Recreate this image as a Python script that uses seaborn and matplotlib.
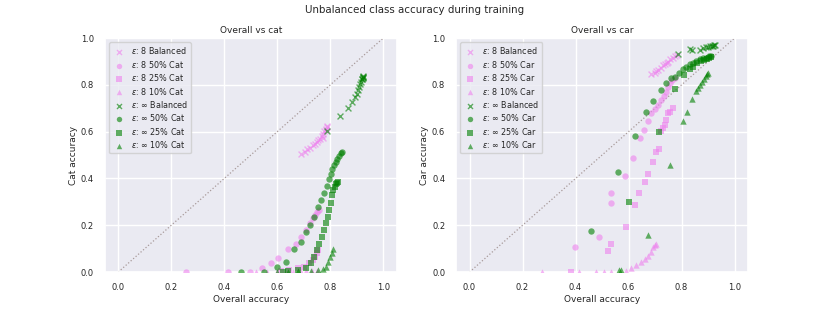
import numpy as np
import pandas as pd
import matplotlib
matplotlib.use("Agg")
import matplotlib.pyplot as plt
import seaborn as sns

# ---- left panel: overall vs cat ----
cat_e8_bal_x = [0.689, 0.704, 0.714, 0.724, 0.733, 0.742, 0.749, 0.755, 0.762, 0.767, 0.773, 0.777, 0.782, 0.786, 0.789, 0.784, 0.771]
cat_e8_bal_y = [0.503, 0.513, 0.526, 0.531, 0.541, 0.548, 0.555, 0.563, 0.570, 0.580, 0.591, 0.602, 0.611, 0.619, 0.626, 0.607, 0.575]
cat_e8_50_x = [0.254, 0.414, 0.497, 0.544, 0.576, 0.601, 0.639, 0.670, 0.689, 0.708, 0.725, 0.733, 0.742, 0.750, 0.759]
cat_e8_50_y = [0.0, 0.0, 0.0, 0.016, 0.037, 0.058, 0.097, 0.122, 0.151, 0.179, 0.208, 0.229, 0.244, 0.258, 0.265]
cat_e8_25_x = [0.614, 0.645, 0.677, 0.702, 0.721, 0.734, 0.742, 0.750, 0.755]
cat_e8_25_y = [0.003, 0.009, 0.016, 0.023, 0.037, 0.051, 0.063, 0.080, 0.094]
cat_e8_10_x = [0.52, 0.56, 0.60, 0.63, 0.66, 0.69, 0.71, 0.73, 0.75]
cat_e8_10_y = [0.0, 0.0, 0.0, 0.0, 0.0, 0.002, 0.003, 0.004, 0.005]
cat_einf_bal_x = [0.787, 0.837, 0.867, 0.881, 0.892, 0.900, 0.905, 0.910, 0.913, 0.917, 0.920, 0.922, 0.924, 0.921, 0.925, 0.922]
cat_einf_bal_y = [0.601, 0.669, 0.700, 0.728, 0.749, 0.763, 0.777, 0.792, 0.803, 0.814, 0.824, 0.831, 0.835, 0.827, 0.834, 0.837]
cat_einf_50_x = [0.462, 0.551, 0.598, 0.633, 0.664, 0.689, 0.708, 0.725, 0.740, 0.753, 0.765, 0.777, 0.786, 0.796, 0.802, 0.808, 0.814, 0.821, 0.827, 0.833, 0.840, 0.843]
cat_einf_50_y = [0.0, 0.0, 0.023, 0.044, 0.097, 0.130, 0.170, 0.200, 0.236, 0.279, 0.308, 0.340, 0.366, 0.397, 0.418, 0.440, 0.456, 0.470, 0.485, 0.496, 0.507, 0.513]
cat_einf_25_x = [0.620, 0.639, 0.677, 0.708, 0.727, 0.740, 0.750, 0.759, 0.768, 0.778, 0.784, 0.790, 0.797, 0.803, 0.806, 0.812, 0.817, 0.822, 0.827, 0.831]
cat_einf_25_y = [0.0, 0.004, 0.009, 0.016, 0.037, 0.063, 0.094, 0.122, 0.151, 0.179, 0.208, 0.236, 0.265, 0.294, 0.329, 0.351, 0.365, 0.376, 0.382, 0.386]
cat_einf_10_x = [0.600, 0.640, 0.677, 0.727, 0.753, 0.771, 0.784, 0.793, 0.800, 0.806, 0.809]
cat_einf_10_y = [0.0, 0.0, 0.004, 0.004, 0.009, 0.013, 0.023, 0.044, 0.066, 0.083, 0.100]

# ---- right panel: overall vs car ----
car_e8_bal_x = [0.686, 0.698, 0.711, 0.721, 0.730, 0.738, 0.748, 0.758, 0.767, 0.776, 0.784, 0.705, 0.745]
car_e8_bal_y = [0.845, 0.852, 0.863, 0.873, 0.883, 0.891, 0.899, 0.909, 0.916, 0.923, 0.927, 0.858, 0.894]
car_e8_50_x = [0.399, 0.487, 0.535, 0.535, 0.585, 0.618, 0.642, 0.658, 0.673, 0.686, 0.698, 0.711, 0.723, 0.733, 0.742, 0.748, 0.755, 0.764, 0.774]
car_e8_50_y = [0.107, 0.148, 0.297, 0.340, 0.411, 0.488, 0.575, 0.609, 0.647, 0.680, 0.698, 0.715, 0.736, 0.751, 0.768, 0.789, 0.806, 0.820, 0.831]
car_e8_25_x = [0.381, 0.522, 0.535, 0.591, 0.625, 0.638, 0.662, 0.673, 0.692, 0.705, 0.714, 0.721, 0.730, 0.736, 0.742, 0.748, 0.757, 0.767]
car_e8_25_y = [0.0, 0.092, 0.120, 0.194, 0.287, 0.337, 0.385, 0.417, 0.469, 0.513, 0.528, 0.601, 0.615, 0.629, 0.650, 0.678, 0.685, 0.699]
car_e8_10_x = [0.274, 0.413, 0.476, 0.508, 0.533, 0.590, 0.609, 0.628, 0.647, 0.663, 0.675, 0.684, 0.693, 0.698, 0.705]
car_e8_10_y = [0.0, 0.0, 0.0, 0.0, 0.0, 0.004, 0.016, 0.030, 0.041, 0.054, 0.068, 0.087, 0.108, 0.117, 0.122]
car_einf_bal_x = [0.786, 0.830, 0.839, 0.868, 0.880, 0.893, 0.906, 0.914, 0.922, 0.927, 0.918, 0.900]
car_einf_bal_y = [0.930, 0.953, 0.948, 0.951, 0.958, 0.963, 0.965, 0.968, 0.970, 0.972, 0.966, 0.960]
car_einf_50_x = [0.459, 0.562, 0.623, 0.664, 0.693, 0.721, 0.741, 0.761, 0.776, 0.792, 0.805, 0.818, 0.830, 0.843, 0.855, 0.868, 0.880, 0.893, 0.905, 0.912]
car_einf_50_y = [0.174, 0.427, 0.581, 0.683, 0.731, 0.776, 0.808, 0.828, 0.835, 0.852, 0.866, 0.876, 0.888, 0.895, 0.902, 0.909, 0.913, 0.916, 0.922, 0.925]
car_einf_25_x = [0.600, 0.714, 0.775, 0.810, 0.832, 0.845, 0.860, 0.872, 0.885, 0.895, 0.905, 0.912]
car_einf_25_y = [0.301, 0.600, 0.781, 0.842, 0.866, 0.875, 0.893, 0.900, 0.905, 0.910, 0.914, 0.918]
car_einf_10_x = [0.564, 0.572, 0.672, 0.757, 0.804, 0.821, 0.840, 0.854, 0.862, 0.870, 0.878, 0.884, 0.891, 0.896, 0.899]
car_einf_10_y = [0.009, 0.007, 0.158, 0.456, 0.647, 0.685, 0.739, 0.775, 0.786, 0.800, 0.814, 0.827, 0.838, 0.845, 0.849]

labels = ["Balanced", "50% {}", "25% {}", "10% {}"]
markers = ["X", "o", "s", "^"]

sns.set_theme(style="darkgrid")
plt.rcParams['font.family'] = ['DejaVu Sans']

fig, axes = plt.subplots(1, 2, figsize=(8.3, 3.12), dpi=100)
fig.subplots_adjust(left=0.1265, right=0.901, top=0.878, bottom=0.128, wspace=0.205)


def draw(ax, series, cls):
    ax.plot([0, 1], [0, 1], linestyle=":", color="#a89a9a", linewidth=0.9, zorder=1)
    for i, (eps, col) in enumerate([("8", "violet"), ("\\infty", "green")]):
        for j in range(4):
            xs, ys = series[i * 4 + j]
            lab = "$\\varepsilon$: $" + eps + "$ " + labels[j].format(cls)
            if markers[j] == "X":
                sns.scatterplot(x=xs, y=ys, ax=ax, marker="x", color=col, alpha=0.6,
                                s=18, linewidth=1.0, label=lab, zorder=3)
            else:
                sns.scatterplot(x=xs, y=ys, ax=ax, marker=markers[j], color=col, alpha=0.6,
                                s=21, linewidth=0, label=lab, zorder=3)
    ax.set_ylim(0, 1.0)
    ax.set_xlim(-0.05, 1.05)
    ax.set_xticks([0, 0.2, 0.4, 0.6, 0.8, 1.0])
    ax.set_yticks([0, 0.2, 0.4, 0.6, 0.8, 1.0])
    ax.tick_params(labelsize=6, pad=2)
    ax.set_xlabel("Overall accuracy", fontsize=6.5, labelpad=2)
    ax.set_ylabel(cls + " accuracy", fontsize=6.5, labelpad=2)
    ax.set_title("Overall vs " + cls.lower(), fontsize=6.5, pad=4)
    leg = ax.legend(loc="upper left", fontsize=5.8, markerscale=0.85, handletextpad=0.7,
                    borderpad=0.4, labelspacing=0.3, handlelength=1.6)
    for h in leg.legend_handles:
        h.set_alpha(0.6)


draw(axes[0], [(cat_e8_bal_x, cat_e8_bal_y), (cat_e8_50_x, cat_e8_50_y), (cat_e8_25_x, cat_e8_25_y),
               (cat_e8_10_x, cat_e8_10_y), (cat_einf_bal_x, cat_einf_bal_y), (cat_einf_50_x, cat_einf_50_y),
               (cat_einf_25_x, cat_einf_25_y), (cat_einf_10_x, cat_einf_10_y)], "Cat")
draw(axes[1], [(car_e8_bal_x, car_e8_bal_y), (car_e8_50_x, car_e8_50_y), (car_e8_25_x, car_e8_25_y),
               (car_e8_10_x, car_e8_10_y), (car_einf_bal_x, car_einf_bal_y), (car_einf_50_x, car_einf_50_y),
               (car_einf_25_x, car_einf_25_y), (car_einf_10_x, car_einf_10_y)], "Car")

fig.suptitle("Unbalanced class accuracy during training", fontsize=7.4, y=0.985)
fig.savefig("out.png", dpi=100)
